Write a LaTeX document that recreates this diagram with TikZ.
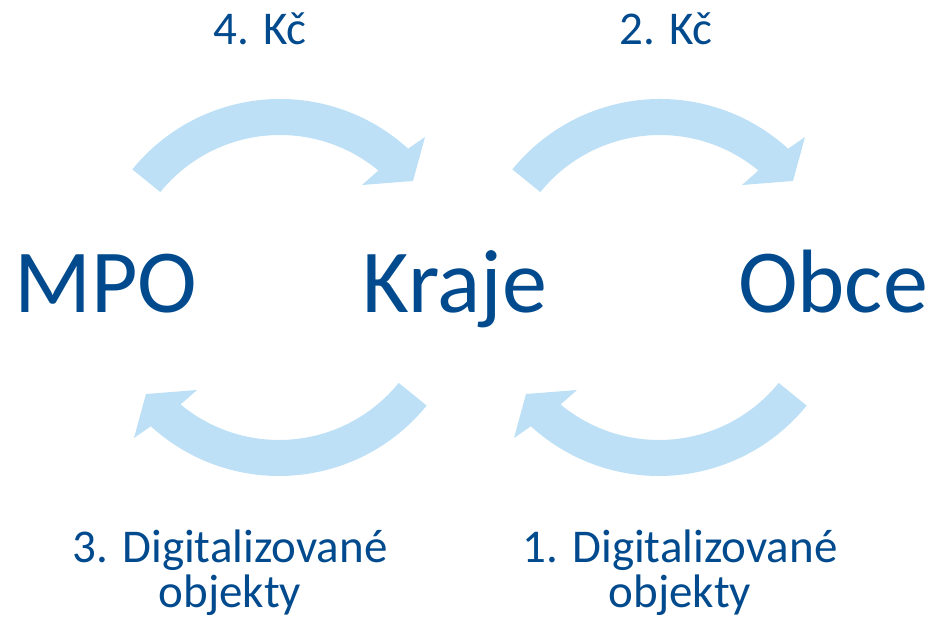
\documentclass[tikz,border=0pt]{standalone}
\usepackage{fontspec}
\setmainfont{Carlito}
\usepackage{tikz}
\usetikzlibrary{calc}
\definecolor{textblue}{RGB}{0,74,141}
\definecolor{arrowblue}{RGB}{189,224,246}

\begin{document}
\begin{tikzpicture}[x=1pt,y=1pt,
  big/.style={text=textblue,font=\fontsize{90}{90}\selectfont,anchor=base,inner sep=0pt},
  small/.style={text=textblue,font=\fontsize{47}{45}\selectfont,anchor=base,inner sep=0pt,align=center},
  bent/.pic={
    \fill[arrowblue] (141:190) arc[start angle=141,end angle=47.6,radius=190]
      -- (145,152) -- (133,108) -- (82,104) -- (50.3:154)
      arc[start angle=50.3,end angle=141,radius=154] -- cycle;
  }]
\useasboundingbox (0,0) rectangle (932,628);
% the three parties
\node[big] (mpo) at (106,315) {MPO};
\node[big] (kraje) at (455,315) {Kraje};
\node[big] (obce) at (833,315) {Obce};
% money going down
\pic at (280,339) {bent};
\pic at (660,339) {bent};
\node[small] (kc4) at (260,583) {4. Kč};
\node[small] (kc2) at (666,583) {2. Kč};
% objects going up
\pic[rotate=180] at (279,342) {bent};
\pic[rotate=180] at (659,342) {bent};
\node[small] (obj3) at (230,20) {3. Digitalizované\\objekty};
\node[small] (obj1) at (680,20) {1. Digitalizované\\objekty};
\end{tikzpicture}
\end{document}
